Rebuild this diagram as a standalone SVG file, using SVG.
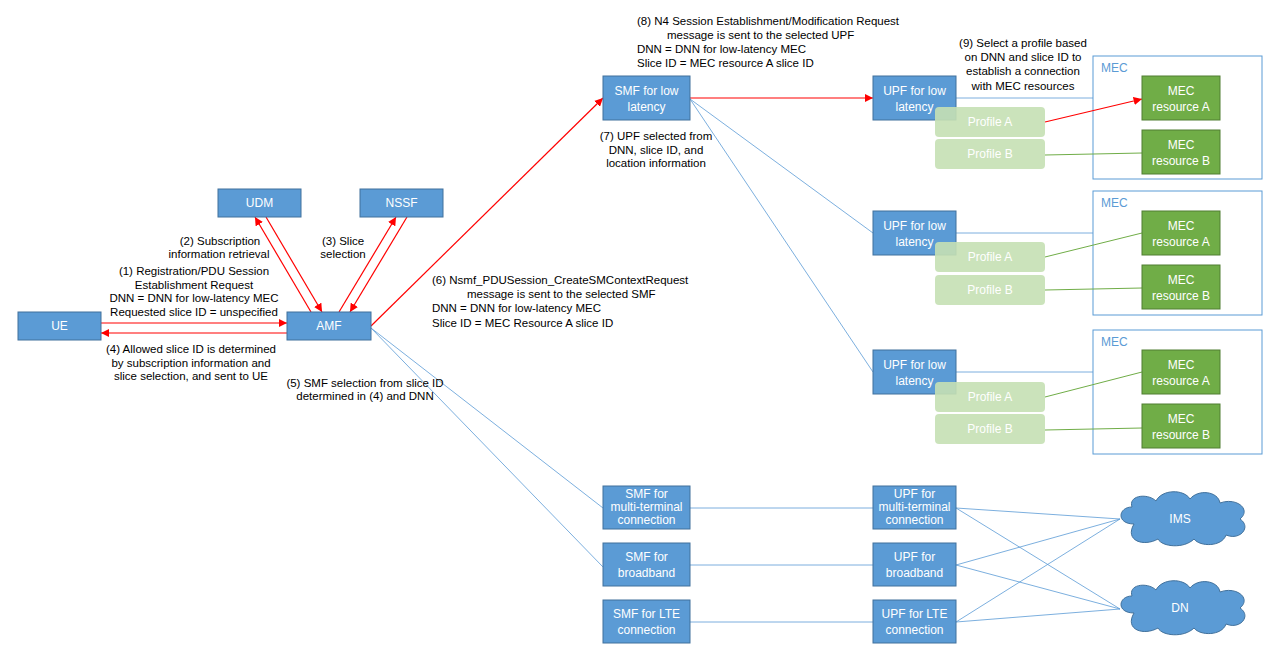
<svg xmlns="http://www.w3.org/2000/svg" width="1280" height="670" viewBox="0 0 1280 670">
<defs>
<marker id="ar" viewBox="0 0 10 10" refX="10" refY="5" markerWidth="7" markerHeight="7" orient="auto-start-reverse"><path d="M0,0 L10,5 L0,10 z" fill="#ff0000"/></marker>
<path id="cloud" d="M-50,5 C-68,5 -66,-12 -52,-12 C-56,-24 -36,-26 -28,-18 C-22,-30 0,-30 6,-20 C14,-30 34,-28 36,-16 C52,-22 68,-10 56,0 C68,8 56,22 42,16 C38,28 16,28 10,20 C0,30 -22,28 -26,20 C-40,28 -60,22 -50,5 z"/>
</defs>
<style>
.b{fill:#5b9bd5;stroke:#41719c;stroke-width:1}
.g{fill:#70ad47;stroke:#507e32;stroke-width:1}
.p{fill:#c5e0b4;opacity:0.9}
.mec{fill:none;stroke:#5b9bd5;stroke-width:1}
.w{font-family:"Liberation Sans",Arial,sans-serif;font-size:12px;fill:#fff;text-anchor:middle}
.t{font-family:"Liberation Sans",Arial,sans-serif;font-size:11.5px;fill:#000}
.m{text-anchor:middle}
.ml{font-family:"Liberation Sans",Arial,sans-serif;font-size:12px;fill:#5b9bd5}
.r{stroke:#ff0000;stroke-width:1.2;fill:none}
.l{stroke:#5b9bd5;stroke-width:0.8;fill:none}
.gl{stroke:#70ad47;stroke-width:1;fill:none}
</style>
<g id="mec-boxes">
<rect class="mec" x="1093" y="56" width="169" height="123"/><text class="ml" x="1101" y="72">MEC</text>
<rect class="mec" x="1093" y="191" width="169" height="124"/><text class="ml" x="1101" y="207">MEC</text>
<rect class="mec" x="1093" y="330" width="169" height="124"/><text class="ml" x="1101" y="346">MEC</text>
</g>
<g id="connectors">
<line class="r" x1="101" y1="323" x2="287" y2="323" marker-end="url(#ar)"/>
<line class="r" x1="287" y1="333" x2="101" y2="333" marker-end="url(#ar)"/>
<line class="r" x1="311" y1="312" x2="255" y2="217" marker-end="url(#ar)"/>
<line class="r" x1="266" y1="217" x2="322" y2="312" marker-end="url(#ar)"/>
<line class="r" x1="339" y1="312" x2="396" y2="217" marker-end="url(#ar)"/>
<line class="r" x1="407" y1="217" x2="350" y2="312" marker-end="url(#ar)"/>
<line class="r" x1="371" y1="326" x2="603" y2="98" marker-end="url(#ar)"/>
<line class="r" x1="690" y1="98" x2="873" y2="98" marker-end="url(#ar)"/>
<line class="l" x1="371" y1="328" x2="603" y2="508"/>
<line class="l" x1="371" y1="328" x2="603" y2="567"/>
<line class="l" x1="690" y1="99" x2="873" y2="233"/>
<line class="l" x1="690" y1="99" x2="873" y2="372"/>
<line class="l" x1="956" y1="98" x2="1093" y2="98"/>
<line class="l" x1="956" y1="233" x2="1093" y2="233"/>
<line class="l" x1="956" y1="372" x2="1093" y2="372"/>
<line class="l" x1="690" y1="508" x2="873" y2="508"/>
<line class="l" x1="690" y1="565" x2="873" y2="565"/>
<line class="l" x1="690" y1="622" x2="873" y2="622"/>
<line class="l" x1="956" y1="508" x2="1120" y2="519"/>
<line class="l" x1="956" y1="508" x2="1120" y2="609"/>
<line class="l" x1="956" y1="565" x2="1120" y2="519"/>
<line class="l" x1="956" y1="565" x2="1120" y2="609"/>
<line class="l" x1="956" y1="622" x2="1120" y2="519"/>
<line class="l" x1="956" y1="622" x2="1120" y2="609"/>
<line class="r" x1="1045" y1="122" x2="1142" y2="99" marker-end="url(#ar)"/>
<line class="gl" x1="1045" y1="155" x2="1142" y2="153"/>
<line class="gl" x1="1045" y1="257" x2="1142" y2="233"/>
<line class="gl" x1="1045" y1="290" x2="1142" y2="288"/>
<line class="gl" x1="1045" y1="397" x2="1142" y2="372"/>
<line class="gl" x1="1045" y1="430" x2="1142" y2="428"/>
</g>
<g id="UE"><rect class="b" x="18" y="312" width="83" height="28"/><text class="w" x="59.500" y="330">UE</text></g>
<g id="AMF"><rect class="b" x="287" y="312" width="84" height="28"/><text class="w" x="329" y="330">AMF</text></g>
<g id="UDM"><rect class="b" x="218" y="189" width="83" height="28"/><text class="w" x="259.500" y="207">UDM</text></g>
<g id="NSSF"><rect class="b" x="360" y="189" width="83" height="28"/><text class="w" x="401.500" y="207">NSSF</text></g>
<g id="SMF-low"><rect class="b" x="603" y="76" width="87" height="44"/><text class="w" x="646.500" y="95">SMF for low</text><text class="w" x="646.500" y="111">latency</text></g>
<g id="SMF-multi"><rect class="b" x="603" y="486" width="87" height="43"/><text class="w" x="646.500" y="498">SMF for</text><text class="w" x="646.500" y="511">multi-terminal</text><text class="w" x="646.500" y="524">connection</text></g>
<g id="SMF-bb"><rect class="b" x="603" y="543" width="87" height="43"/><text class="w" x="646.500" y="561">SMF for</text><text class="w" x="646.500" y="577">broadband</text></g>
<g id="SMF-lte"><rect class="b" x="603" y="600" width="87" height="43"/><text class="w" x="646.500" y="618">SMF for LTE</text><text class="w" x="646.500" y="634">connection</text></g>
<g id="UPF-multi"><rect class="b" x="873" y="486" width="83" height="43"/><text class="w" x="914.500" y="498">UPF for</text><text class="w" x="914.500" y="511">multi-terminal</text><text class="w" x="914.500" y="524">connection</text></g>
<g id="UPF-bb"><rect class="b" x="873" y="543" width="83" height="43"/><text class="w" x="914.500" y="561">UPF for</text><text class="w" x="914.500" y="577">broadband</text></g>
<g id="UPF-lte"><rect class="b" x="873" y="600" width="83" height="43"/><text class="w" x="914.500" y="618">UPF for LTE</text><text class="w" x="914.500" y="634">connection</text></g>
<g id="IMS"><use href="#cloud" class="b" transform="translate(1184,519)"/><text class="w" x="1180" y="523">IMS</text></g>
<g id="DN"><use href="#cloud" class="b" transform="translate(1184,608)"/><text class="w" x="1180" y="612">DN</text></g>
<g id="UPF-low-1"><rect class="b" x="873" y="76" width="83" height="44"/><text class="w" x="914.500" y="95">UPF for low</text><text class="w" x="914.500" y="111">latency</text></g>
<g id="UPF-low-2"><rect class="b" x="873" y="211" width="83" height="44"/><text class="w" x="914.500" y="230">UPF for low</text><text class="w" x="914.500" y="246">latency</text></g>
<g id="UPF-low-3"><rect class="b" x="873" y="350" width="83" height="44"/><text class="w" x="914.500" y="369">UPF for low</text><text class="w" x="914.500" y="385">latency</text></g>
<g id="profiles">
<rect class="p" x="935" y="107" width="110" height="30" rx="4"/><text class="w" x="990" y="126">Profile A</text>
<rect class="p" x="935" y="139" width="110" height="30" rx="4"/><text class="w" x="990" y="158">Profile B</text>
<rect class="p" x="935" y="242" width="110" height="30" rx="4"/><text class="w" x="990" y="261">Profile A</text>
<rect class="p" x="935" y="275" width="110" height="30" rx="4"/><text class="w" x="990" y="294">Profile B</text>
<rect class="p" x="935" y="382" width="110" height="30" rx="4"/><text class="w" x="990" y="401">Profile A</text>
<rect class="p" x="935" y="414" width="110" height="30" rx="4"/><text class="w" x="990" y="433">Profile B</text>
</g>
<g id="MEC-resources">
<rect class="g" x="1142" y="76" width="78" height="44"/><text class="w" x="1181" y="95">MEC</text><text class="w" x="1181" y="111">resource A</text>
<rect class="g" x="1142" y="130" width="78" height="44"/><text class="w" x="1181" y="149">MEC</text><text class="w" x="1181" y="165">resource B</text>
<rect class="g" x="1142" y="211" width="78" height="44"/><text class="w" x="1181" y="230">MEC</text><text class="w" x="1181" y="246">resource A</text>
<rect class="g" x="1142" y="265" width="78" height="44"/><text class="w" x="1181" y="284">MEC</text><text class="w" x="1181" y="300">resource B</text>
<rect class="g" x="1142" y="350" width="78" height="44"/><text class="w" x="1181" y="369">MEC</text><text class="w" x="1181" y="385">resource A</text>
<rect class="g" x="1142" y="404" width="78" height="44"/><text class="w" x="1181" y="423">MEC</text><text class="w" x="1181" y="439">resource B</text>
</g>
<g id="labels">
<text class="t m" x="220" y="245">(2) Subscription</text>
<text class="t m" x="219" y="258">information retrieval</text>
<text class="t m" x="343" y="245">(3) Slice</text>
<text class="t m" x="343" y="258">selection</text>
<text class="t m" x="194" y="275">(1) Registration/PDU Session</text>
<text class="t m" x="194" y="289">Establishment Request</text>
<text class="t m" x="194" y="302">DNN = DNN for low-latency MEC</text>
<text class="t m" x="194" y="316">Requested slice ID = unspecified</text>
<text class="t m" x="191" y="353">(4) Allowed slice ID is determined</text>
<text class="t m" x="191" y="367">by subscription information and</text>
<text class="t m" x="191" y="380">slice selection, and sent to UE</text>
<text class="t m" x="365" y="387">(5) SMF  selection from slice ID</text>
<text class="t m" x="365" y="400">determined in (4) and DNN</text>
<text class="t" x="432" y="284">(6) Nsmf_PDUSession_CreateSMContextRequest</text>
<text class="t" x="467" y="298">message is sent to the selected SMF</text>
<text class="t" x="432" y="312">DNN = DNN for low-latency MEC</text>
<text class="t" x="432" y="327">Slice ID = MEC Resource A slice ID</text>
<text class="t" x="637" y="25">(8) N4 Session Establishment/Modification Request</text>
<text class="t" x="667" y="39">message is sent to the selected UPF</text>
<text class="t" x="637" y="53">DNN = DNN for low-latency MEC</text>
<text class="t" x="637" y="67">Slice ID = MEC resource A slice ID</text>
<text class="t m" x="1023" y="47">(9) Select a profile based</text>
<text class="t m" x="1023" y="61">on DNN and slice ID to</text>
<text class="t m" x="1023" y="75">establish a connection</text>
<text class="t m" x="1023" y="90">with MEC resources</text>
<text class="t m" x="656" y="140">(7) UPF selected from</text>
<text class="t m" x="656" y="154">DNN, slice ID, and</text>
<text class="t m" x="656" y="167">location information</text>
</g>
</svg>
